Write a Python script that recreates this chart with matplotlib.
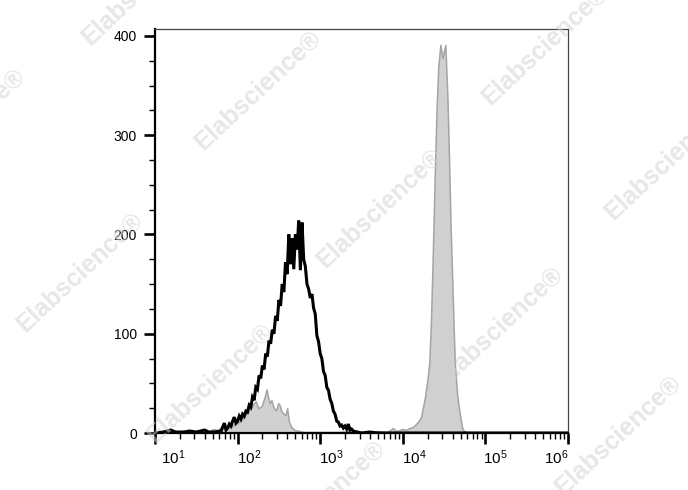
import numpy as np
import matplotlib
matplotlib.use("Agg")
import matplotlib.pyplot as plt
from matplotlib.ticker import FixedLocator, NullFormatter
import matplotlib.transforms as mtransforms

plt.rcParams['font.family'] = ['Liberation Sans', 'DejaVu Sans']
plt.rcParams['mathtext.fontset'] = 'custom'
plt.rcParams['mathtext.rm'] = 'Liberation Sans'
plt.rcParams['mathtext.it'] = 'Liberation Sans'

# ---- data (log10 of intensity, event count) ----
sample_log = [1.00, 1.10, 1.19, 1.25, 1.35, 1.42, 1.50, 1.60, 1.65, 1.72,
              1.80, 1.82, 1.84, 1.86, 1.88, 1.90, 1.92, 1.94, 1.96, 1.98,
              2.00, 2.02, 2.04, 2.06, 2.08, 2.10, 2.12, 2.14, 2.16, 2.18,
              2.20, 2.22, 2.24, 2.26, 2.28, 2.30, 2.32, 2.34, 2.36, 2.38,
              2.40, 2.42, 2.44, 2.46, 2.48, 2.50, 2.52, 2.54, 2.56, 2.58,
              2.60, 2.62, 2.64, 2.66, 2.68, 2.70, 2.72, 2.74, 2.76, 2.78,
              2.80, 2.82, 2.84, 2.86, 2.88, 2.90, 2.92, 2.94, 2.96, 2.98,
              3.00, 3.02, 3.04, 3.06, 3.08, 3.10, 3.12, 3.14, 3.16, 3.18,
              3.20, 3.22, 3.24, 3.26, 3.28, 3.30, 3.32, 3.34, 3.36, 3.38,
              3.40, 3.45, 3.50, 3.60, 3.70, 4.00, 5.00, 6.00]
sample_cnt = [0, 1, 3, 1, 1, 2, 1, 3, 1, 1,
              2, 6, 10, 3, 5, 9, 7, 12, 16, 10,
              12, 17, 14, 19, 17, 22, 21, 28, 26, 36,
              33, 46, 44, 58, 55, 68, 64, 80, 77, 93,
              90, 104, 100, 118, 113, 134, 128, 150, 142, 172,
              160, 200, 170, 196, 165, 200, 185, 214, 164, 212,
              175, 168, 150, 145, 136, 140, 126, 120, 98, 92,
              80, 75, 62, 58, 46, 43, 34, 30, 22, 19,
              12, 11, 7, 8, 5, 7, 4, 9, 3, 4,
              2, 1, 0, 1, 0, 0, 0, 0]

control_log = [1.00, 1.20, 1.40, 1.55, 1.65, 1.70, 1.76, 1.80, 1.85, 1.92, 1.96, 2.00,
               2.04, 2.08, 2.12, 2.16, 2.19, 2.22, 2.25, 2.29, 2.33, 2.35, 2.37, 2.39,
               2.41, 2.43, 2.45, 2.47, 2.49, 2.51, 2.53, 2.55, 2.58, 2.60, 2.62, 2.65,
               2.69, 2.75, 2.81, 2.90, 3.00, 3.20, 3.40, 3.50, 3.60, 3.70, 3.80, 3.85,
               3.88, 3.92, 3.96, 4.00, 4.04, 4.08, 4.12, 4.16, 4.19, 4.22, 4.25, 4.27,
               4.30, 4.32, 4.34, 4.36, 4.37, 4.39, 4.41, 4.43, 4.455, 4.48, 4.515, 4.53,
               4.54, 4.56, 4.58, 4.60, 4.62, 4.63, 4.66, 4.68, 4.70, 4.72, 4.74, 4.78,
               4.85, 5.00, 6.00]
control_cnt = [0, 1, 1, 2, 1, 4, 3, 6, 5, 6, 9, 10,
               13, 16, 21, 25, 29, 32, 25, 27, 37, 44, 36, 30,
               33, 27, 24, 23, 30, 28, 22, 20, 18, 25, 12, 6,
               3, 2, 1, 1, 1, 1, 2, 1, 1, 2, 1, 3,
               5, 2, 3, 4, 3, 5, 6, 9, 12, 16, 28, 37,
               55, 70, 110, 170, 204, 270, 330, 370, 391, 378, 391, 360,
               339, 275, 204, 150, 95, 70, 37, 25, 14, 5, 2, 1,
               0, 0, 0]

y_ticks = [0, 100, 200, 300, 400]
x_tick_exps = [1, 2, 3, 4, 5, 6]
x_tick_labels = [r'$10^{%d}$' % e for e in x_tick_exps]

fig = plt.figure(figsize=(6.88, 4.90), dpi=100)
ax = fig.add_axes([155 / 688, 1 - 433 / 490, (568 - 155) / 688, (433 - 29) / 490])

cx = 10 ** np.array(control_log)
sx = 10 ** np.array(sample_log)
ax.fill_between(cx, 0, control_cnt, facecolor='#d0d0d0', edgecolor='#a4a4a4', lw=1.1, zorder=2)
ax.plot(sx, sample_cnt, color='black', lw=2.2, zorder=3, solid_joinstyle='miter')

ax.set_xscale('log')
ax.set_xlim(10 ** 1, 10 ** 6)
ax.set_ylim(0, 407)

ax.set_yticks(y_ticks)
ax.set_yticklabels([str(v) for v in y_ticks])
ax.yaxis.set_minor_locator(FixedLocator(np.arange(0, 401, 25)))

ax.xaxis.set_major_locator(FixedLocator([10.0 ** e for e in x_tick_exps]))
minors = [m * 10.0 ** e for e in range(1, 6) for m in range(2, 10)]
ax.xaxis.set_minor_locator(FixedLocator(minors))
ax.xaxis.set_minor_formatter(NullFormatter())
ax.set_xticklabels(x_tick_labels)

ax.tick_params(axis='both', which='major', direction='out', length=8, width=1.9,
               color='black', labelcolor='black')
ax.tick_params(axis='both', which='minor', direction='out', length=4.5, width=1.0, color='black')
ax.tick_params(axis='y', which='major', pad=5, labelsize=10)
ax.tick_params(axis='x', which='major', pad=3, labelsize=11)

offsets = [18, 12, 11, 12, 10, -12]
for lab, off in zip(ax.get_xticklabels(), offsets):
    lab.set_transform(lab.get_transform() + mtransforms.ScaledTranslation(off / 100, 0, fig.dpi_scale_trans))

for s in ['left', 'bottom']:
    ax.spines[s].set_linewidth(1.6)
    ax.spines[s].set_color('black')
for s in ['top', 'right']:
    ax.spines[s].set_linewidth(0.9)
    ax.spines[s].set_color('#444444')

# watermark
wm_pos = [(145, -15), (258, 90), (545, 45), (-38, 128), (380, 208), (668, 160),
          (80, 272), (500, 326), (210, 383), (618, 435), (322, 500)]
for (px, py) in wm_pos:
    fig.text(px / 688, 1 - py / 490, 'Elabscience\u00ae', rotation=43, fontsize=18,
             fontweight='bold', color='#d4d4d4', alpha=0.55, ha='center', va='center',
             zorder=10)

fig.savefig('out.png', dpi=100)
